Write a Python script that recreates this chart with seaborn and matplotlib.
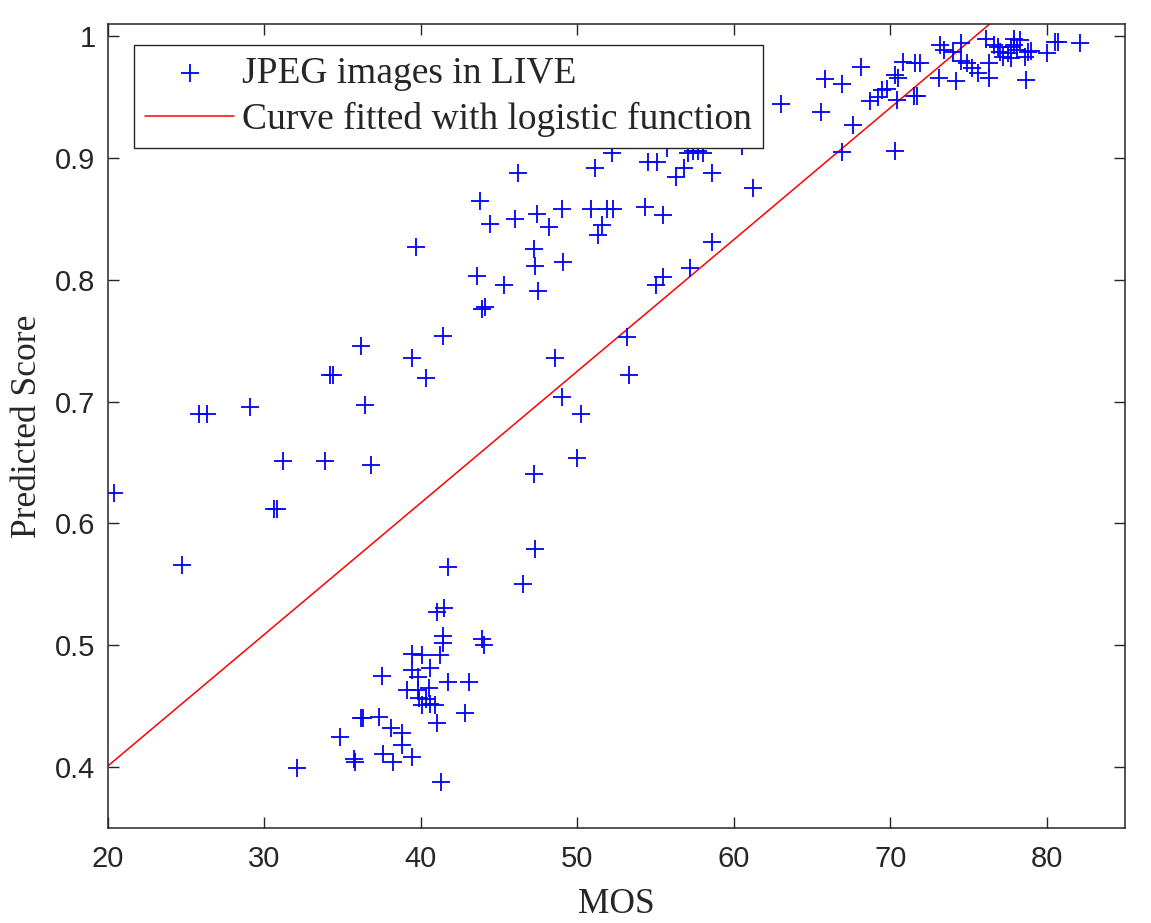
import matplotlib
matplotlib.use("Agg")
import matplotlib.pyplot as plt
import seaborn as sns
import pandas as pd

# ---- data ----
mos = [20.4, 24.7, 25.8, 26.3, 29.1, 30.6, 30.8, 31.2, 33.9, 34.2, 34.4, 36.2, 36.4, 36.8,
       39.4, 39.7, 40.3, 41.4, 43.6, 43.8, 43.9, 44.1, 44.4, 45.3, 46.0, 46.2, 47.2, 47.4,
       47.3, 47.5, 48.2, 49.0, 49.1, 48.6, 49.0, 50.2, 50.0, 47.2, 47.3, 46.5, 50.9, 51.1,
       51.6, 51.3, 51.9, 52.3, 52.2, 53.2, 53.3, 54.3, 54.5, 55.1, 55.0, 55.5, 55.5, 56.3,
       56.8, 57.1, 57.4, 57.7, 58.0, 58.6, 58.6, 57.2, 60.5, 61.2, 55.7,
       63.0, 65.8, 66.9, 68.1, 65.6, 67.6, 66.9, 70.3, 68.7, 69.2, 69.5, 69.8, 70.4, 70.3,
       70.5, 70.8, 71.6, 71.9, 71.5, 71.7, 73.2, 73.4, 74.5, 73.1, 74.2, 74.0, 74.5, 74.9,
       75.2, 75.6, 76.3, 76.1, 76.3, 76.6, 76.9, 77.0, 77.2, 77.5, 77.7, 77.9, 78.1, 78.3,
       77.9, 77.7, 78.8, 79.0, 78.6, 78.7, 80.0, 80.5, 80.7, 82.1,
       41.0, 41.5, 41.7, 41.4, 41.4, 43.9, 44.0, 39.4, 40.1, 41.2, 40.6, 39.4, 37.5, 39.8,
       41.7, 43.1, 39.1, 39.8, 40.5, 39.9, 40.3, 40.6, 40.9, 40.1, 41.0, 42.8, 36.2, 36.3,
       37.3, 34.8, 38.1, 38.8, 38.8, 37.6, 38.2, 39.4, 35.7, 35.8, 41.3, 32.1]
score = [0.625, 0.566, 0.690, 0.690, 0.696, 0.612, 0.612, 0.651, 0.651, 0.722, 0.722, 0.746, 0.697, 0.648,
         0.736, 0.827, 0.719, 0.754, 0.803, 0.865, 0.776, 0.778, 0.846, 0.796, 0.850, 0.888, 0.825, 0.854,
         0.811, 0.791, 0.843, 0.858, 0.815, 0.736, 0.704, 0.690, 0.654, 0.641, 0.579, 0.550, 0.858, 0.892,
         0.845, 0.837, 0.858, 0.858, 0.904, 0.753, 0.722, 0.860, 0.897, 0.897, 0.796, 0.802, 0.853, 0.884,
         0.892, 0.904, 0.906, 0.906, 0.904, 0.888, 0.831, 0.810, 0.910, 0.875, 0.908,
         0.944, 0.965, 0.961, 0.975, 0.938, 0.927, 0.905, 0.906, 0.947, 0.950, 0.956, 0.957, 0.948, 0.968,
         0.966, 0.979, 0.978, 0.978, 0.951, 0.951, 0.993, 0.989, 0.994, 0.966, 0.963, 0.987, 0.980, 0.978,
         0.974, 0.970, 0.966, 0.998, 0.978, 0.993, 0.991, 0.987, 0.983, 0.986, 0.991, 0.993, 0.989, 0.997,
         0.998, 0.982, 0.987, 0.988, 0.983, 0.964, 0.986, 0.995, 0.995, 0.994,
         0.527, 0.531, 0.564, 0.508, 0.502, 0.505, 0.500, 0.493, 0.492, 0.492, 0.481, 0.480, 0.475, 0.474,
         0.470, 0.470, 0.463, 0.463, 0.465, 0.457, 0.456, 0.452, 0.451, 0.451, 0.436, 0.444, 0.440, 0.440,
         0.441, 0.425, 0.432, 0.428, 0.418, 0.411, 0.404, 0.408, 0.407, 0.404, 0.388, 0.399]

fit_x = [20, 40, 60, 77]
fit_y = [0.401, 0.617, 0.833, 1.017]

x_ticks = [20, 30, 40, 50, 60, 70, 80]
y_ticks = [0.4, 0.5, 0.6, 0.7, 0.8, 0.9, 1.0]
y_tick_labels = ["0.4", "0.5", "0.6", "0.7", "0.8", "0.9", "1"]

scatter_label = "JPEG images in LIVE"
fit_label = "Curve fitted with logistic function"

# ---- plotting ----
sns.set_style("white")
plt.rcParams["font.family"] = ["Liberation Sans", "DejaVu Sans"]

pts = pd.DataFrame({"MOS": mos, "Score": score})
fit = pd.DataFrame({"MOS": fit_x, "Score": fit_y})

fig = plt.figure(figsize=(11.51, 9.23), dpi=100)
ax = fig.add_axes([108 / 1151, 1 - 828 / 923, 1017 / 1151, 804 / 923])

sns.scatterplot(data=pts, x="MOS", y="Score", marker="+", s=170, color="#0000ff",
                linewidth=1.3, ax=ax, label=scatter_label, zorder=3)
sns.lineplot(data=fit, x="MOS", y="Score", color="#ff0000", linewidth=1.1, ax=ax,
             label=fit_label, zorder=2)

ax.set_xlim(20, 85)
ax.set_ylim(0.35, 1.01)
ax.set_xticks(x_ticks)
ax.set_yticks(y_ticks)
ax.set_yticklabels(y_tick_labels)

for sp in ax.spines.values():
    sp.set_color("#262626")
    sp.set_linewidth(1.1)
    sp.set_visible(True)

ax.tick_params(axis="both", which="major", direction="in", length=8, width=1.0,
               color="#262626", labelcolor="#262626", labelsize=21,
               top=True, right=True, bottom=True, left=True)
ax.tick_params(axis="x", pad=12)
ax.tick_params(axis="y", pad=9)

serif = ["Liberation Serif", "DejaVu Serif"]
ax.set_xlabel("MOS", fontsize=25.5, family=serif, color="#262626", labelpad=11)
ax.set_ylabel("Predicted Score", fontsize=25.5, family=serif, color="#262626", labelpad=8)

leg = ax.legend(loc="upper left", bbox_to_anchor=(0.0256, 0.974), borderaxespad=0,
                frameon=True, fancybox=False, framealpha=1, edgecolor="#262626",
                prop={"family": serif, "size": 27}, handlelength=2.36, handletextpad=0.22,
                labelspacing=0.3, borderpad=0.3, markerscale=1.0)
leg.get_frame().set_linewidth(1.0)
leg.set_zorder(5)

fig.savefig("out.png", dpi=100)
